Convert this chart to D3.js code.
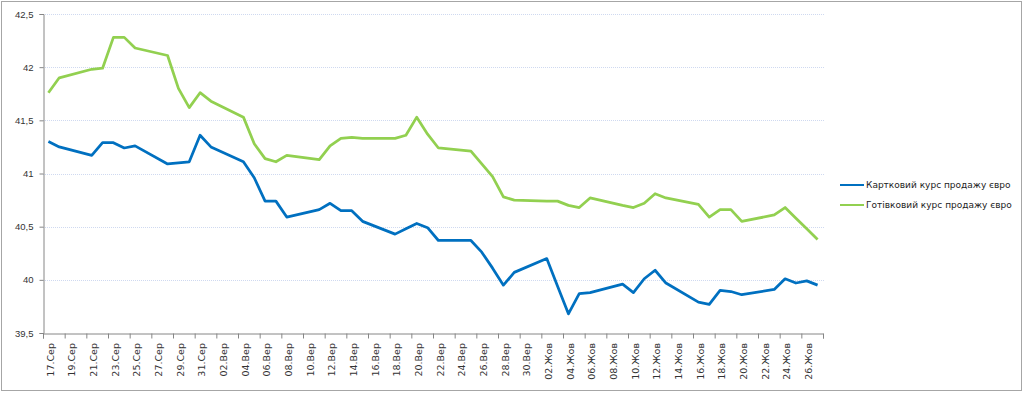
<!DOCTYPE html>
<html>
<head>
<meta charset="utf-8">
<script src="https://cdn.jsdelivr.net/npm/d3@7"></script>
<style>
  body { margin: 0; background: #fff; }
  svg { display: block; font-family: "DejaVu Sans", Verdana, sans-serif; }
</style>
</head>
<body>
<div id="chart"></div>
<script>
const dates = [
  '2023-08-17', '2023-08-18', '2023-08-21', '2023-08-22', '2023-08-23', '2023-08-24', '2023-08-25',
  '2023-08-28', '2023-08-29', '2023-08-30', '2023-08-31', '2023-09-01',
  '2023-09-04', '2023-09-05', '2023-09-06', '2023-09-07', '2023-09-08',
  '2023-09-11', '2023-09-12', '2023-09-13', '2023-09-14', '2023-09-15',
  '2023-09-18', '2023-09-19', '2023-09-20', '2023-09-21', '2023-09-22',
  '2023-09-25', '2023-09-26', '2023-09-27', '2023-09-28', '2023-09-29',
  '2023-10-02', '2023-10-03', '2023-10-04', '2023-10-05', '2023-10-06',
  '2023-10-09', '2023-10-10', '2023-10-11', '2023-10-12', '2023-10-13',
  '2023-10-16', '2023-10-17', '2023-10-18', '2023-10-19', '2023-10-20',
  '2023-10-23', '2023-10-24', '2023-10-25', '2023-10-26', '2023-10-27'
];

const cardRate = [
  41.30, 41.25, 41.17, 41.29, 41.29, 41.24, 41.26,
  41.09, 41.10, 41.11, 41.36, 41.25,
  41.11, 40.96, 40.74, 40.74, 40.59,
  40.66, 40.72, 40.65, 40.65, 40.55,
  40.43, 40.48, 40.53, 40.49, 40.37,
  40.37, 40.26, 40.11, 39.95, 40.07,
  40.20, 39.94, 39.68, 39.87, 39.88,
  39.96, 39.88, 40.01, 40.09, 39.97,
  39.79, 39.77, 39.90, 39.89, 39.86,
  39.91, 40.01, 39.97, 39.99, 39.95
];

const cashRate = [
  41.76, 41.90, 41.98, 41.99, 42.28, 42.28, 42.18,
  42.11, 41.80, 41.62, 41.76, 41.68,
  41.53, 41.28, 41.14, 41.11, 41.17,
  41.13, 41.26, 41.33, 41.34, 41.33,
  41.33, 41.36, 41.53, 41.37, 41.24,
  41.21, 41.09, 40.97, 40.78, 40.75,
  40.74, 40.74, 40.70, 40.68, 40.77,
  40.70, 40.68, 40.72, 40.81, 40.77,
  40.71, 40.59, 40.66, 40.66, 40.55,
  40.61, 40.68, 40.58, 40.48, 40.38
];

const seriesNames = ['Картковий курс продажу євро', 'Готівковий курс продажу євро'];
const seriesColors = ['#0070c0', '#92d050'];
const yTicks = [39.5, 40, 40.5, 41, 41.5, 42, 42.5];
const monthNames = ['Січ', 'Лют', 'Бер', 'Кві', 'Тра', 'Чер', 'Лип', 'Сер', 'Вер', 'Жов', 'Лис', 'Гру'];

const width = 1024, height = 393;
const plot = { left: 43, right: 823, top: 14, bottom: 333 };

const parse = d3.timeParse('%Y-%m-%d');
const days = dates.map(parse);
const start = parse('2023-08-17'), end = parse('2023-10-28');

const svg = d3.select('#chart').append('svg')
  .attr('width', width)
  .attr('height', height);

// outer frame
svg.append('rect')
  .attr('x', 1.5).attr('y', 1.5)
  .attr('width', 1020).attr('height', 389)
  .attr('fill', '#fff')
  .attr('stroke', '#a6a6a6');

const x = d3.scaleTime().domain([start, end]).range([plot.left, plot.right]);
const y = d3.scaleLinear().domain([39.5, 42.5]).range([plot.bottom, plot.top]);
const mid = d => d3.timeHour.offset(d, 12);

// gridlines
svg.append('g')
  .selectAll('line')
  .data(yTicks.slice(1))
  .enter().append('line')
  .attr('x1', plot.left).attr('x2', plot.right + 2)
  .attr('y1', d => Math.round(y(d)) + 0.5)
  .attr('y2', d => Math.round(y(d)) + 0.5)
  .attr('stroke', '#cfd9f0')
  .attr('stroke-dasharray', '1,1');

// y axis
const yAxis = svg.append('g')
  .attr('transform', `translate(${plot.left + 0.5},0)`)
  .call(d3.axisLeft(y).tickValues(yTicks).tickSize(4).tickPadding(6)
    .tickFormat(d => String(d).replace('.', ',')));
yAxis.select('.domain').attr('stroke', '#868686');
yAxis.selectAll('.tick line').attr('stroke', '#868686');
yAxis.selectAll('.tick text')
  .attr('font-size', 9.5)
  .attr('fill', '#333');

// x axis: a tick every two days, labels between ticks
const nTicks = d3.timeDay.count(start, end) / 2;
const tickDays = d3.range(nTicks + 1).map(i => d3.timeDay.offset(start, i * 2));
const xAxis = svg.append('g')
  .attr('transform', `translate(0,${plot.bottom + 0.5})`)
  .call(d3.axisBottom(x).tickValues(tickDays).tickSize(5).tickFormat(''));
xAxis.select('.domain').attr('stroke', '#868686');
xAxis.selectAll('.tick line').attr('stroke', '#868686');

svg.append('g')
  .selectAll('text')
  .data(tickDays.slice(0, -1))
  .enter().append('text')
  .attr('transform', d => `translate(${x(mid(d)) + 2},${plot.bottom + 10}) rotate(-90)`)
  .attr('dy', '0.35em')
  .attr('text-anchor', 'end')
  .attr('font-size', 9.5)
  .attr('fill', '#333')
  .text(d => d3.timeFormat('%d')(d) + '.' + monthNames[d.getMonth()]);

// lines
const line = d3.line()
  .x(d => x(mid(d.date)))
  .y(d => y(d.value));

[cardRate, cashRate].forEach((vals, i) => {
  const pts = days.map((d, j) => ({ date: d, value: vals[j] }));
  svg.append('path')
    .datum(pts)
    .attr('fill', 'none')
    .attr('stroke', seriesColors[i])
    .attr('stroke-width', 2.75)
    .attr('stroke-linejoin', 'round')
    .attr('d', line);
});

// legend
const legend = svg.append('g')
  .selectAll('g')
  .data(seriesNames)
  .enter().append('g')
  .attr('transform', (d, i) => `translate(840,${185 + i * 20})`);

legend.append('line')
  .attr('x1', 0).attr('x2', 24)
  .attr('stroke', (d, i) => seriesColors[i])
  .attr('stroke-width', 2);

legend.append('text')
  .attr('x', 26)
  .attr('dy', '0.35em')
  .attr('font-size', 9)
  .attr('fill', '#222')
  .text(d => d);
</script>
</body>
</html>
